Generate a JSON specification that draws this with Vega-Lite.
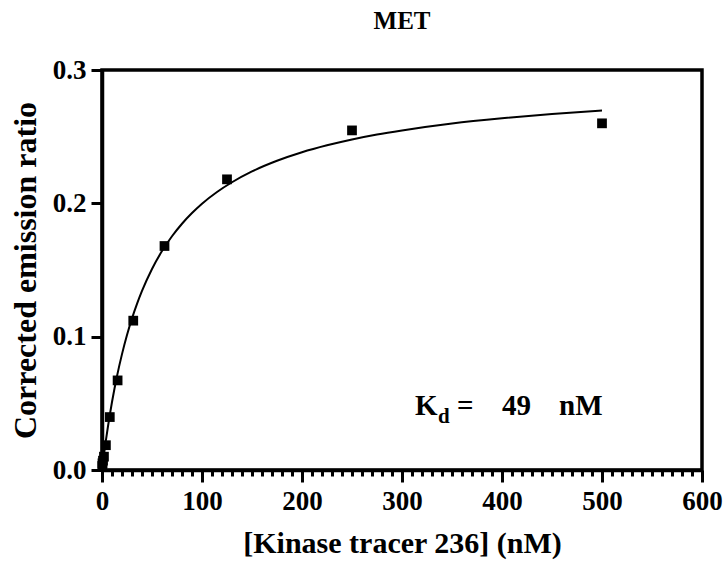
{
  "$schema": "https://vega.github.io/schema/vega-lite/v6.json",
  "width": 600,
  "height": 400,
  "autosize": "none",
  "padding": {"left": 102, "top": 70, "right": 22, "bottom": 96},
  "background": "white",
  "title": {
    "text": "MET",
    "font": "Liberation Serif",
    "fontSize": 25,
    "fontWeight": "bold",
    "color": "black",
    "baseline": "alphabetic",
    "offset": 2
  },
  "config": {
    "view": {"stroke": "black", "strokeWidth": 3.5},
    "axis": {
      "domainColor": "black",
      "domainWidth": 3.5,
      "tickColor": "black",
      "tickWidth": 3,
      "grid": false,
      "labelFlush": false,
      "labelFont": "Liberation Serif",
      "labelFontWeight": "bold",
      "labelFontSize": 27,
      "labelColor": "black",
      "titleFont": "Liberation Serif",
      "titleFontWeight": "bold",
      "titleColor": "black"
    }
  },
  "datasets": {
    "points": [
      {"conc": 0.24, "ratio": 0.003},
      {"conc": 0.49, "ratio": 0.005},
      {"conc": 0.98, "ratio": 0.007},
      {"conc": 1.95, "ratio": 0.010},
      {"conc": 3.9, "ratio": 0.0186},
      {"conc": 7.8, "ratio": 0.0397},
      {"conc": 15.6, "ratio": 0.0672},
      {"conc": 31.25, "ratio": 0.112},
      {"conc": 62.5, "ratio": 0.168},
      {"conc": 125, "ratio": 0.218},
      {"conc": 250, "ratio": 0.2547},
      {"conc": 500, "ratio": 0.260}
    ],
    "fit": [
      {"conc": 0, "ratio": 0},
      {"conc": 0.5, "ratio": 0.0030},
      {"conc": 1, "ratio": 0.0060},
      {"conc": 2, "ratio": 0.0118},
      {"conc": 4, "ratio": 0.0227},
      {"conc": 6, "ratio": 0.0328},
      {"conc": 8, "ratio": 0.0422},
      {"conc": 10, "ratio": 0.0510},
      {"conc": 12.5, "ratio": 0.0611},
      {"conc": 15, "ratio": 0.0704},
      {"conc": 20, "ratio": 0.0869},
      {"conc": 25, "ratio": 0.1012},
      {"conc": 30, "ratio": 0.1137},
      {"conc": 35, "ratio": 0.1246},
      {"conc": 40, "ratio": 0.1343},
      {"conc": 50, "ratio": 0.1508},
      {"conc": 60, "ratio": 0.1642},
      {"conc": 70, "ratio": 0.1753},
      {"conc": 80, "ratio": 0.1847},
      {"conc": 90, "ratio": 0.1927},
      {"conc": 100, "ratio": 0.1997},
      {"conc": 115, "ratio": 0.2085},
      {"conc": 130, "ratio": 0.2158},
      {"conc": 150, "ratio": 0.2239},
      {"conc": 175, "ratio": 0.2319},
      {"conc": 200, "ratio": 0.2383},
      {"conc": 225, "ratio": 0.2435},
      {"conc": 250, "ratio": 0.2479},
      {"conc": 275, "ratio": 0.2516},
      {"conc": 300, "ratio": 0.2547},
      {"conc": 350, "ratio": 0.2599},
      {"conc": 400, "ratio": 0.2638},
      {"conc": 450, "ratio": 0.2670},
      {"conc": 500, "ratio": 0.2696}
    ],
    "note": [
      {"conc": 313, "ratio": 0.041, "label": "K"},
      {"conc": 355, "ratio": 0.041, "label": "="},
      {"conc": 400, "ratio": 0.041, "label": "49"},
      {"conc": 457, "ratio": 0.041, "label": "nM"}
    ],
    "sub": [
      {"conc": 336, "ratio": 0.0355, "label": "d"}
    ]
  },
  "encoding": {
    "x": {
      "field": "conc",
      "type": "quantitative",
      "scale": {"domain": [0, 600], "nice": false},
      "axis": {
        "title": "[Kinase tracer 236] (nM)",
        "titleFontSize": 30,
        "titlePadding": 14,
        "values": [0, 10, 20, 30, 40, 50, 60, 70, 80, 90, 100, 110, 120, 130, 140, 150, 160, 170, 180, 190, 200, 210, 220, 230, 240, 250, 260, 270, 280, 290, 300, 310, 320, 330, 340, 350, 360, 370, 380, 390, 400, 410, 420, 430, 440, 450, 460, 470, 480, 490, 500, 510, 520, 530, 540, 550, 560, 570, 580, 590, 600],
        "labelExpr": "datum.value % 100 === 0 ? datum.value : ''",
        "labelOverlap": false,
        "labelPadding": 6,
        "tickSize": {"condition": {"test": "datum.value % 100 === 0", "value": 12}, "value": 6}
      }
    },
    "y": {
      "field": "ratio",
      "type": "quantitative",
      "scale": {"domain": [0, 0.3], "nice": false},
      "axis": {
        "title": "Corrected emission ratio",
        "titleFontSize": 32,
        "titlePadding": 10,
        "values": [0, 0.1, 0.2, 0.3],
        "format": ".1f",
        "tickSize": 11,
        "labelPadding": 5
      }
    }
  },
  "layer": [
    {
      "data": {"name": "fit"},
      "mark": {"type": "line", "color": "black", "strokeWidth": 2, "interpolate": "monotone"}
    },
    {
      "data": {"name": "points"},
      "mark": {"type": "point", "shape": "square", "filled": true, "color": "black", "opacity": 1, "size": 95}
    },
    {
      "data": {"name": "note"},
      "mark": {"type": "text", "align": "left", "baseline": "alphabetic", "font": "Liberation Serif", "fontWeight": "bold", "fontSize": 29, "color": "black"},
      "encoding": {"text": {"field": "label"}}
    },
    {
      "data": {"name": "sub"},
      "mark": {"type": "text", "align": "left", "baseline": "alphabetic", "font": "Liberation Serif", "fontWeight": "bold", "fontSize": 21, "color": "black"},
      "encoding": {"text": {"field": "label"}}
    }
  ]
}
